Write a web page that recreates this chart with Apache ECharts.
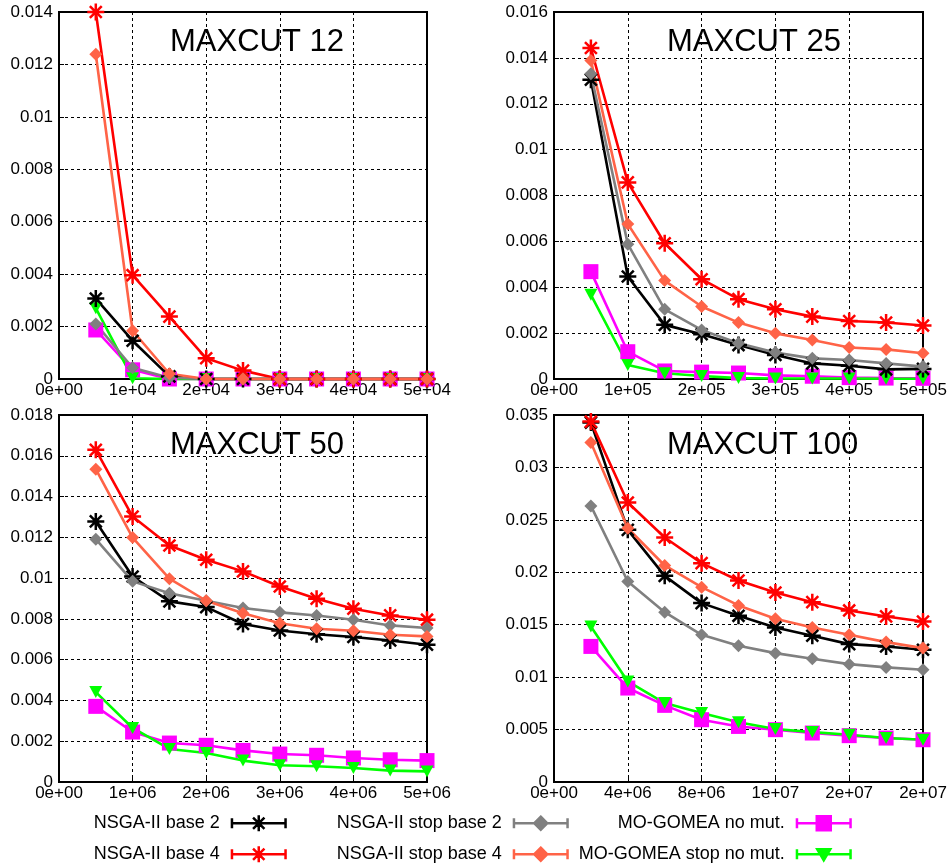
<!DOCTYPE html>
<html>
<head>
<meta charset="utf-8">
<script src="https://cdn.jsdelivr.net/npm/echarts@6/dist/echarts.min.js"></script>
<style>
  html, body { margin: 0; padding: 0; background: #fff; }
  #chart { width: 951px; height: 867px; }
</style>
</head>
<body>
<div id="chart"></div>
<script>
// Evaluation budgets (x) for each MAXCUT instance size
const evals12  = [5e3, 1e4, 1.5e4, 2e4, 2.5e4, 3e4, 3.5e4, 4e4, 4.5e4, 5e4];
const evals25  = [5e4, 1e5, 1.5e5, 2e5, 2.5e5, 3e5, 3.5e5, 4e5, 4.5e5, 5e5];
const evals50  = [5e5, 1e6, 1.5e6, 2e6, 2.5e6, 3e6, 3.5e6, 4e6, 4.5e6, 5e6];
const evals100 = [2e6, 4e6, 6e6, 8e6, 1e7, 1.2e7, 1.4e7, 1.6e7, 1.8e7, 2e7];

// MAXCUT 12
const m12_nsga2   = [0.00307, 0.00146, 0.0001, 0, 0, 0, 0, 0, 0, 0];
const m12_nsga4   = [0.0140, 0.00396, 0.00238, 0.00079, 0.00032, 0, 0, 0, 0, 0];
const m12_stop2   = [0.0021, 0.00043, 0.00005, 0, 0, 0, 0, 0, 0, 0];
const m12_stop4   = [0.01239, 0.00184, 0.0002, 0, 0, 0, 0, 0, 0, 0];
const m12_gomea   = [0.00187, 0.00035, 0, 0, 0, 0, 0, 0, 0, 0];
const m12_gomeaS  = [0.0027, 0.00003, 0, 0, 0, 0, 0, 0, 0, 0];

// MAXCUT 25
const m25_nsga2   = [0.01305, 0.00447, 0.00236, 0.00195, 0.00148, 0.00105, 0.00068, 0.00058, 0.00042, 0.00044];
const m25_nsga4   = [0.01443, 0.00857, 0.00592, 0.00435, 0.00348, 0.00304, 0.00272, 0.00253, 0.00246, 0.00233];
const m25_stop2   = [0.01331, 0.00588, 0.00304, 0.00214, 0.00156, 0.00115, 0.0009, 0.00083, 0.00068, 0.00054];
const m25_stop4   = [0.01389, 0.00676, 0.00429, 0.00316, 0.00246, 0.00199, 0.0017, 0.00137, 0.00129, 0.00112];
const m25_gomea   = [0.00468, 0.00119, 0.00035, 0.0003, 0.00026, 0.00016, 0.00012, 0.00006, 0.00004, 0.00003];
const m25_gomeaS  = [0.00367, 0.00061, 0.00025, 0.00013, 0.00004, 0.00002, 0.00002, 0.00002, 0.00001, 0.00001];

// MAXCUT 50
const m50_nsga2   = [0.01278, 0.01008, 0.00886, 0.00858, 0.00775, 0.00743, 0.00725, 0.00711, 0.00694, 0.00673];
const m50_nsga4   = [0.01629, 0.01302, 0.0116, 0.0109, 0.01033, 0.00959, 0.00899, 0.0085, 0.00817, 0.00796];
const m50_stop2   = [0.01191, 0.00984, 0.00926, 0.00889, 0.00853, 0.00832, 0.00817, 0.00796, 0.00768, 0.00755];
const m50_stop4   = [0.01534, 0.01199, 0.00997, 0.00889, 0.00828, 0.00779, 0.00752, 0.00742, 0.00722, 0.00714];
const m50_gomea   = [0.00371, 0.00245, 0.00191, 0.0018, 0.00155, 0.00137, 0.00131, 0.00118, 0.00109, 0.00105];
const m50_gomeaS  = [0.00441, 0.00265, 0.00162, 0.00142, 0.00105, 0.00082, 0.00077, 0.00069, 0.00056, 0.00052];

// MAXCUT 100
const m100_nsga2  = [0.03428, 0.02405, 0.01966, 0.01706, 0.01585, 0.01474, 0.01395, 0.01315, 0.01293, 0.01261];
const m100_nsga4  = [0.03437, 0.02665, 0.02332, 0.02087, 0.01922, 0.01807, 0.01715, 0.01636, 0.01579, 0.01531];
const m100_stop2  = [0.02633, 0.01912, 0.0162, 0.01404, 0.01299, 0.01229, 0.01175, 0.01124, 0.01093, 0.0107];
const m100_stop4  = [0.03237, 0.0242, 0.02065, 0.01858, 0.01684, 0.01557, 0.01474, 0.01404, 0.01334, 0.01277];
const m100_gomea  = [0.01293, 0.00896, 0.00731, 0.00594, 0.0053, 0.00499, 0.00467, 0.00442, 0.00419, 0.00403];
const m100_gomeaS = [0.01483, 0.00959, 0.00753, 0.00658, 0.00569, 0.00505, 0.00476, 0.00451, 0.00419, 0.00403];

const panelTitles = ['MAXCUT 12', 'MAXCUT 25', 'MAXCUT 50', 'MAXCUT 100'];
const xMax = [5e4, 5e5, 5e6, 2e7];
const xStep = [1e4, 1e5, 1e6, 4e6];
const yMax = [0.014, 0.016, 0.018, 0.035];
const yStep = [0.002, 0.002, 0.002, 0.005];
const xValues = [evals12, evals25, evals50, evals100];

const seriesNames = [
  'MO-GOMEA no mut.', 'MO-GOMEA stop no mut.',
  'NSGA-II base 2', 'NSGA-II base 4',
  'NSGA-II stop base 2', 'NSGA-II stop base 4'
];
const panelValues = [
  [m12_gomea, m12_gomeaS, m12_nsga2, m12_nsga4, m12_stop2, m12_stop4],
  [m25_gomea, m25_gomeaS, m25_nsga2, m25_nsga4, m25_stop2, m25_stop4],
  [m50_gomea, m50_gomeaS, m50_nsga2, m50_nsga4, m50_stop2, m50_stop4],
  [m100_gomea, m100_gomeaS, m100_nsga2, m100_nsga4, m100_stop2, m100_stop4]
];

const FONT = 'Liberation Sans, Arial, Helvetica, sans-serif';
const ASTERISK = 'path://M5 0L5 10M0 5L10 5M1.5 1.5L8.5 8.5M8.5 1.5L1.5 8.5';

// marker style for each method
const styles = {
  'NSGA-II base 2':        { color: '#000000', symbol: ASTERISK, size: 17, stroke: true },
  'NSGA-II base 4':        { color: '#ff0000', symbol: ASTERISK, size: 17, stroke: true },
  'NSGA-II stop base 2':   { color: '#808080', symbol: 'diamond', size: 13 },
  'NSGA-II stop base 4':   { color: '#ff6347', symbol: 'diamond', size: 13 },
  'MO-GOMEA no mut.':      { color: '#ff00ff', symbol: 'rect', size: 15 },
  'MO-GOMEA stop no mut.': { color: '#00ff00', symbol: 'triangle', size: [13, 12], rotate: 180 }
};

// legend icons: error-bar style line with end caps and the marker in the middle
const ICON_FRAME = 'M0 0M56 16M0 8L56 8M1.2 3L1.2 13M54.8 3L54.8 13';
const legendIcons = {
  'NSGA-II base 2':        ICON_FRAME + 'M28 0L28 16M20 8L36 8M22.3 2.3L33.7 13.7M33.7 2.3L22.3 13.7',
  'NSGA-II base 4':        ICON_FRAME + 'M28 0L28 16M20 8L36 8M22.3 2.3L33.7 13.7M33.7 2.3L22.3 13.7',
  'NSGA-II stop base 2':   ICON_FRAME + 'M28 1.5L34.5 8L28 14.5L21.5 8Z',
  'NSGA-II stop base 4':   ICON_FRAME + 'M28 1.5L34.5 8L28 14.5L21.5 8Z',
  'MO-GOMEA no mut.':      ICON_FRAME + 'M21 1L35 1L35 15L21 15Z',
  'MO-GOMEA stop no mut.': ICON_FRAME + 'M21.5 3L34.5 3L28 14Z'
};

// legend placement: [right offset of icon, top]
const legendSlots = {
  'NSGA-II base 2':        [663, 814],
  'NSGA-II base 4':        [663, 845],
  'NSGA-II stop base 2':   [381, 814],
  'NSGA-II stop base 4':   [381, 845],
  'MO-GOMEA no mut.':      [98, 814],
  'MO-GOMEA stop no mut.': [98, 845]
};

const gridBoxes = [
  { left: 59, top: 12, width: 368, height: 367 },
  { left: 554, top: 12, width: 369, height: 367 },
  { left: 59, top: 415, width: 368, height: 367 },
  { left: 554, top: 415, width: 369, height: 367 }
];
const titlePos = [[170, 27], [667, 27], [170, 430], [667, 430]];

function expLabel(v) {
  return v.toExponential(0).replace(/e([+-])(\d+)$/, function (m, s, d) {
    return 'e' + s + (d.length < 2 ? '0' + d : d);
  });
}
function gLabel(v) {
  if (Math.abs(v) < 1e-12) return '0';
  return String(parseFloat(v.toPrecision(4)));
}

const dashed = { color: '#000', width: 1, type: [3, 3] };

const grid = [], xAxis = [], yAxis = [], title = [], series = [];
for (let p = 0; p < 4; p++) {
  grid.push(Object.assign({ show: true, borderColor: '#000', borderWidth: 2, backgroundColor: 'transparent' }, gridBoxes[p]));
  xAxis.push({
    type: 'value', gridIndex: p, min: 0, max: xMax[p], interval: xStep[p],
    axisLine: { show: false },
    axisTick: { show: true, inside: true, length: 5, lineStyle: { color: '#000', width: 1 } },
    splitLine: { show: true, lineStyle: dashed },
    axisLabel: { fontFamily: FONT, fontSize: 17, color: '#000', margin: 3, formatter: expLabel }
  });
  yAxis.push({
    type: 'value', gridIndex: p, min: 0, max: yMax[p], interval: yStep[p],
    axisLine: { show: false },
    axisTick: { show: true, inside: true, length: 5, lineStyle: { color: '#000', width: 1 } },
    splitLine: { show: true, lineStyle: dashed },
    axisLabel: { fontFamily: FONT, fontSize: 17, color: '#000', margin: 6, formatter: gLabel }
  });
  title.push({
    text: panelTitles[p], left: titlePos[p][0], top: titlePos[p][1], padding: 0,
    textStyle: { fontFamily: FONT, fontSize: 31, fontWeight: 'normal', color: '#000' }
  });
  seriesNames.forEach(function (name, k) {
    const st = styles[name];
    const vals = panelValues[p][k];
    series.push({
      name: name, type: 'line', xAxisIndex: p, yAxisIndex: p,
      data: xValues[p].map(function (x, i) { return [x, vals[i]]; }),
      symbol: st.symbol, symbolSize: st.size, symbolRotate: st.rotate || 0,
      showAllSymbol: true, clip: false, animation: false,
      lineStyle: { color: st.color, width: 2.6 },
      itemStyle: st.stroke
        ? { color: st.color, borderColor: st.color, borderWidth: 2.5 }
        : { color: st.color, borderWidth: 0 },
      emphasis: { disabled: true }
    });
  });
}

const legend = Object.keys(legendSlots).map(function (name) {
  const c = styles[name].color;
  return {
    data: [{ name: name, icon: 'path://' + legendIcons[name],
             itemStyle: { color: c, borderColor: c, borderWidth: 2.5 } }],
    align: 'right', right: legendSlots[name][0], top: legendSlots[name][1],
    padding: 0, itemWidth: 56, itemHeight: 16, selectedMode: false,
    textStyle: { fontFamily: FONT, fontSize: 18, color: '#000', padding: [0, 6, 0, 0] }
  };
});

const chart = echarts.init(document.getElementById('chart'), null, { renderer: 'canvas' });
chart.setOption({
  animation: false,
  backgroundColor: '#fff',
  title: title,
  legend: legend,
  grid: grid,
  xAxis: xAxis,
  yAxis: yAxis,
  series: series
});
</script>
</body>
</html>
